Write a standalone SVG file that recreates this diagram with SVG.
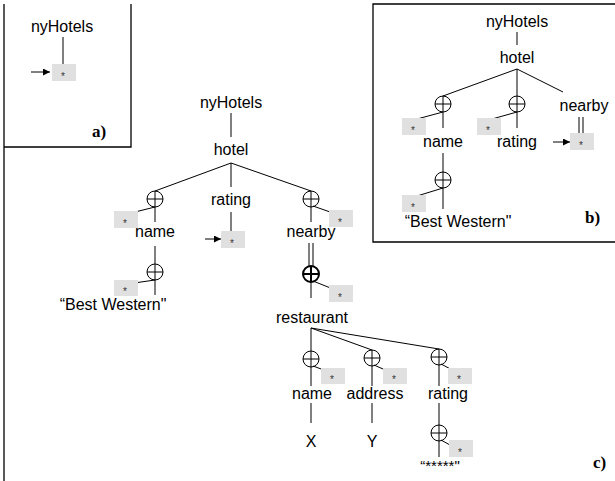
<svg xmlns="http://www.w3.org/2000/svg" width="615" height="481" viewBox="0 0 615 481">
<style>
.t{font-family:"Liberation Sans",Arial,Helvetica,sans-serif;font-size:16px;text-anchor:middle;fill:#000}
.lb{font-family:"Liberation Serif","Times New Roman",serif;font-size:17px;font-weight:bold;fill:#000}
.st{font-family:"Liberation Sans",Arial,sans-serif;font-size:10px;text-anchor:middle;fill:#333}
.bx{fill:#e0e0e0;stroke:none}
.ln{stroke:#000;stroke-width:1;fill:none}
.fr{stroke:#000;stroke-width:1.3;fill:none}
.oc{stroke:#000;stroke-width:1;fill:none}
.ob{stroke:#000;stroke-width:2;fill:none}
</style>
<defs>
<marker id="ah" viewBox="0 0 10 10" refX="10" refY="5" markerWidth="8" markerHeight="7" markerUnits="userSpaceOnUse" orient="auto">
<path d="M0,0 L10,5 L0,10 z" fill="#000"/>
</marker>
</defs>
<g id="frames">
<path class="fr" d="M4,4 V481 M4,147 H131 V4"/>
<path class="fr" d="M615,4 H373 V242 H615"/>
</g>
<g id="connectors">
<path class="ln" d="M63,37 V64"/>
<path class="ln" d="M31,72 H50" marker-end="url(#ah)"/>
<path class="ln" d="M517,32 V45"/>
<path class="ln" d="M517,69 L443,96 M517,69 V96 M517,69 L563,92"/>
<path class="ln" d="M443,112 V128 M443,112 L417,119"/>
<path class="ln" d="M443,153 V172"/>
<path class="ln" d="M443,188 V209 M443,188 L417,196"/>
<path class="ln" d="M517,112 V128 M517,112 L492,119"/>
<path class="ln" d="M553,142 H570" marker-end="url(#ah)"/>
<path class="ln" d="M579,117 V133 M583,117 V133"/>
<path class="ln" d="M231,113 V137"/>
<path class="ln" d="M231,163 L155,191 M231,163 V187 M231,163 L311,191"/>
<path class="ln" d="M155,207 V222 M155,207 L135,212"/>
<path class="ln" d="M155,246 V264"/>
<path class="ln" d="M155,280 V295 M155,280 L134,283"/>
<path class="ln" d="M231,212 V231"/>
<path class="ln" d="M205,239 H221" marker-end="url(#ah)"/>
<path class="ln" d="M311,207 V222 M313,206 L333,213"/>
<path class="ln" d="M309,243 V266 M313,243 V266"/>
<path class="ln" d="M311,282 V298 M313,281 L333,289"/>
<path class="ln" d="M311,328 V351 M311,328 L372,350 M311,328 L439,349"/>
<path class="ln" d="M311,367 V386 M313,366 L332,373"/>
<path class="ln" d="M372,366 V386 M374,365 L392,373"/>
<path class="ln" d="M439,365 V386 M441,364 L458,373"/>
<path class="ln" d="M311,403 V423 M372,403 V423 M439,403 V425"/>
<path class="ln" d="M439,441 V457 M441,440 L459,450"/>
</g>
<g id="a-nyHotels"><text class="t" x="62" y="32">nyHotels</text></g>
<g id="a-star"><rect class="bx" x="52" y="64" width="24" height="17"/><text class="st" x="63" y="80">*</text></g>
<g id="a-label"><text class="lb" x="92" y="137">a)</text></g>

<g id="b-nyHotels"><text class="t" x="517" y="27">nyHotels</text></g>
<g id="b-hotel"><text class="t" x="517" y="63">hotel</text></g>
<g id="b-or1"><circle class="oc" cx="443" cy="104" r="8"/><path class="ln" d="M435,104 H451 M443,96 V112"/></g>
<g id="b-star1"><rect class="bx" x="402" y="118" width="24" height="17"/><text class="st" x="413" y="134">*</text></g>
<g id="b-name"><text class="t" x="443" y="147">name</text></g>
<g id="b-or2"><circle class="oc" cx="443" cy="180" r="8"/><path class="ln" d="M435,180 H451 M443,172 V188"/></g>
<g id="b-star2"><rect class="bx" x="402" y="195" width="24" height="17"/><text class="st" x="413" y="211">*</text></g>
<g id="b-bw"><text class="t" x="458" y="227">“Best Western"</text></g>
<g id="b-or3"><circle class="oc" cx="517" cy="104" r="8"/><path class="ln" d="M509,104 H525 M517,96 V112"/></g>
<g id="b-star3"><rect class="bx" x="477" y="118" width="24" height="17"/><text class="st" x="488" y="134">*</text></g>
<g id="b-rating"><text class="t" x="517" y="147">rating</text></g>
<g id="b-nearby"><text class="t" x="584" y="111">nearby</text></g>
<g id="b-star4"><rect class="bx" x="570" y="133" width="24" height="17"/><text class="st" x="581" y="149">*</text></g>
<g id="b-label"><text class="lb" x="585" y="223">b)</text></g>

<g id="c-nyHotels"><text class="t" x="231" y="108">nyHotels</text></g>
<g id="c-hotel"><text class="t" x="231" y="155">hotel</text></g>
<g id="c-or1"><circle class="oc" cx="155" cy="199" r="8"/><path class="ln" d="M147,199 H163 M155,191 V207"/></g>
<g id="c-star1"><rect class="bx" x="114" y="211" width="24" height="17"/><text class="st" x="125" y="227">*</text></g>
<g id="c-name"><text class="t" x="155" y="237">name</text></g>
<g id="c-or2"><circle class="oc" cx="155" cy="272" r="8"/><path class="ln" d="M147,272 H163 M155,264 V280"/></g>
<g id="c-star2"><rect class="bx" x="114" y="280" width="24" height="16"/><text class="st" x="125" y="295">*</text></g>
<g id="c-bw"><text class="t" x="113" y="310">“Best Western"</text></g>
<g id="c-rating"><text class="t" x="231" y="205">rating</text></g>
<g id="c-star3"><rect class="bx" x="221" y="231" width="24" height="17"/><text class="st" x="232" y="247">*</text></g>
<g id="c-or3"><circle class="oc" cx="311" cy="199" r="8"/><path class="ln" d="M303,199 H319 M311,191 V207"/></g>
<g id="c-star4"><rect class="bx" x="329" y="210" width="24" height="17"/><text class="st" x="340" y="226">*</text></g>
<g id="c-nearby"><text class="t" x="311" y="237">nearby</text></g>
<g id="c-or4"><circle class="ob" cx="311" cy="274" r="8"/><path class="ob" d="M303,274 H319 M311,266 V282"/></g>
<g id="c-star5"><rect class="bx" x="329" y="285" width="24" height="17"/><text class="st" x="340" y="301">*</text></g>
<g id="c-restaurant"><text class="t" x="312" y="323">restaurant</text></g>
<g id="c-or5"><circle class="oc" cx="311" cy="359" r="8"/><path class="ln" d="M303,359 H319 M311,351 V367"/></g>
<g id="c-star6"><rect class="bx" x="321" y="368" width="24" height="16"/><text class="st" x="332" y="383">*</text></g>
<g id="c-name2"><text class="t" x="312" y="399">name</text></g>
<g id="c-X"><text class="t" x="311" y="447">X</text></g>
<g id="c-or6"><circle class="oc" cx="372" cy="358" r="8"/><path class="ln" d="M364,358 H380 M372,350 V366"/></g>
<g id="c-star7"><rect class="bx" x="383" y="368" width="24" height="16"/><text class="st" x="394" y="383">*</text></g>
<g id="c-address"><text class="t" x="375" y="399">address</text></g>
<g id="c-Y"><text class="t" x="372" y="447">Y</text></g>
<g id="c-or7"><circle class="oc" cx="439" cy="357" r="8"/><path class="ln" d="M431,357 H447 M439,349 V365"/></g>
<g id="c-star8"><rect class="bx" x="448" y="368" width="24" height="16"/><text class="st" x="459" y="383">*</text></g>
<g id="c-rating2"><text class="t" x="448" y="399">rating</text></g>
<g id="c-or8"><circle class="oc" cx="439" cy="433" r="8"/><path class="ln" d="M431,433 H447 M439,425 V441"/></g>
<g id="c-star9"><rect class="bx" x="449" y="440" width="24" height="17"/><text class="st" x="460" y="456">*</text></g>
<g id="c-stars"><text class="t" x="440" y="471" style="font-size:15px">“*****"</text></g>
<g id="c-label"><text class="lb" x="593" y="468">c)</text></g>
</svg>
